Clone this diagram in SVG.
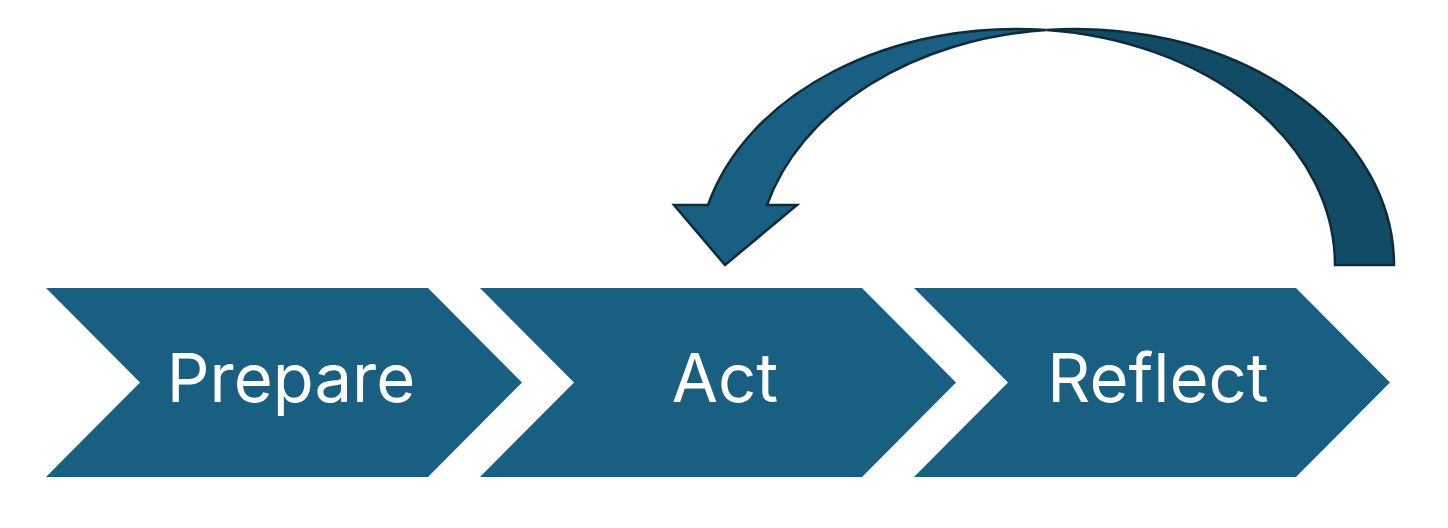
<svg xmlns="http://www.w3.org/2000/svg" width="1448" height="528" viewBox="0 0 1448 528">
<style>
.chev{fill:#185F81;}
.lbl{font-family:Inter,"Open Sans","Liberation Sans",sans-serif;font-size:67px;fill:#ffffff;text-anchor:middle;}
.arr{stroke:#0C2C3B;stroke-width:2.5;stroke-linejoin:miter;}
</style>
<rect width="1448" height="528" fill="#ffffff"/>
<g id="prepare">
<path class="chev" d="M46,288 L428,288 L522,382.5 L428,477 L46,477 L140,382.5 Z"/>
<text class="lbl" x="291" y="402">Prepare</text>
</g>
<g id="act">
<path class="chev" d="M480,288 L862,288 L956,382.5 L862,477 L480,477 L574,382.5 Z"/>
<text class="lbl" x="725" y="402">Act</text>
</g>
<g id="reflect">
<path class="chev" d="M914,288 L1296,288 L1390,382.5 L1296,477 L914,477 L1008,382.5 Z"/>
<text class="lbl" x="1158" y="402">Reflect</text>
</g>
<g id="connectors">
<path class="arr" fill="#124B65" d="M1046.5,30.02 A318,236 0 0 1 1394,265 L1335,265 A318,236 0 0 0 1046.5,30.02 Z"/>
<path class="arr" fill="#185F81" d="M1046.5,30.02 A318,236 0 0 0 708,205 L674,205 L725,265 L797,205 L767,205 A318,236 0 0 1 1046.5,30.02 Z"/>
</g>
</svg>
